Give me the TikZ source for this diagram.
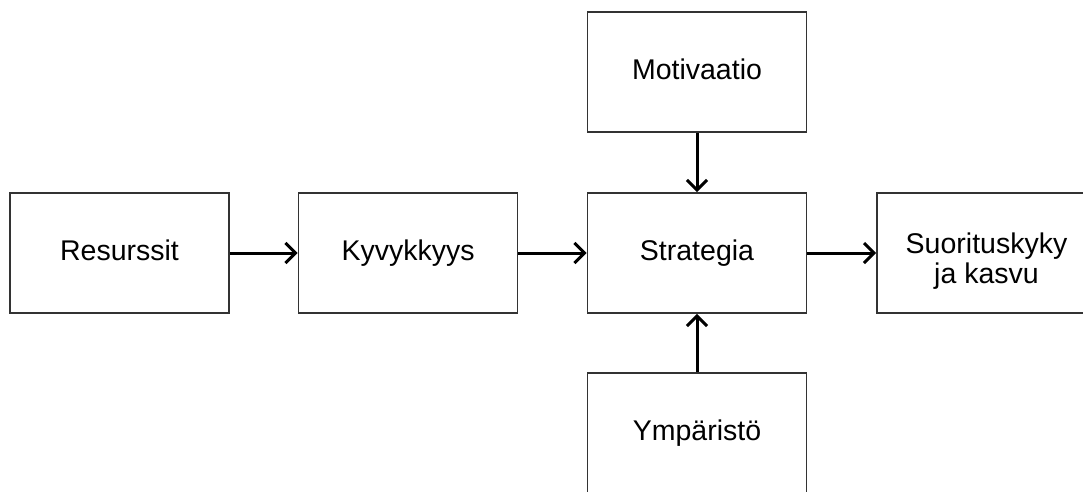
\documentclass[tikz,border=0pt]{standalone}
\usepackage{fontspec}
\setmainfont{Liberation Sans}
\usetikzlibrary{arrows.meta}

\tikzset{
  stagebox/.style={draw=black!80, line width=1.8pt, fill=white,
    minimum width=219pt, minimum height=120pt, inner sep=0pt,
    align=center, font=\fontsize{28.5}{30}\selectfont,
    text height=20.4pt, text depth=6.4pt},
  twoline/.style={text height=60pt, text depth=0pt},
  flow/.style={line width=3pt, black,
    -{Straight Barb[length=10pt,width=20pt,line width=3pt]}}
}

\begin{document}
\begin{tikzpicture}[x=1pt, y=1pt]
  \useasboundingbox (0,0) rectangle (1083,-491);
  \clip (0,0) rectangle (1083,-491);
  \fill[white] (0,0) rectangle (1083,-491);

  % model stages
  \node[stagebox] (res) at (119.5,-253) {Resurssit};
  \node[stagebox] (kyv) at (408,-253) {Kyvykkyys};
  \node[stagebox] (str) at (697,-253) {Strategia};
  \node[stagebox, twoline] (suo) at (986.5,-253) {Suorituskyky\\ja kasvu};
  \node[stagebox] (mot) at (697,-72) {Motivaatio};
  \node[stagebox] (ymp) at (697,-433) {Ympäristö};

  % influences between stages
  \draw[flow] (res) -- (kyv);
  \draw[flow] (kyv) -- (str);
  \draw[flow] (str) -- (suo);
  \draw[flow] (mot) -- (str);
  \draw[flow] (ymp) -- (str);
\end{tikzpicture}
\end{document}
